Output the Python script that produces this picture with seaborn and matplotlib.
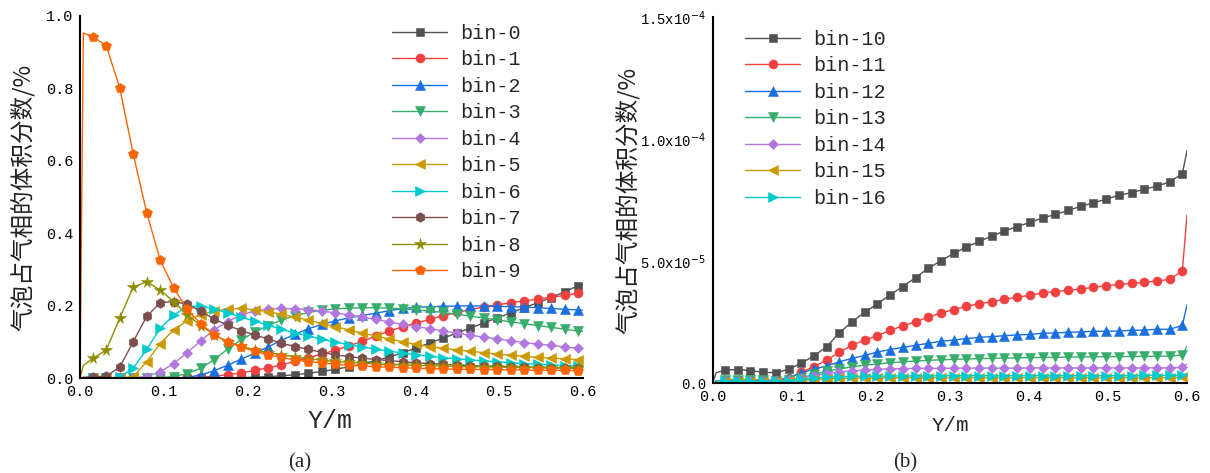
import numpy as np
import pandas as pd
import seaborn as sns
import matplotlib
matplotlib.use("Agg")
import matplotlib.pyplot as plt
from matplotlib.lines import Line2D
from matplotlib.ticker import MultipleLocator, FixedLocator, FixedFormatter, FormatStrFormatter

# ---------------- data ----------------
# sampling positions (Y, m): wall point, near-wall point, 37 marked points, outlet
x_wall = [0.0, 0.004]
x_marks = np.linspace(0.0152, 0.5941, 37)
x_end = [0.6]

labels_a = [f"bin-{i}" for i in range(10)]
labels_b = [f"bin-{i}" for i in range(10, 17)]

# panel (a): volume fraction
bin0 = [0, 0, 0, 0, 0, 0, 0, 0, 0, 0, 0, 0.001, 0.002, 0.004, 0.006, 0.009, 0.013, 0.018, 0.024, 0.031,
        0.039, 0.048, 0.058, 0.070, 0.083, 0.097, 0.110, 0.124, 0.138, 0.152, 0.166, 0.180, 0.194, 0.208,
        0.222, 0.238, 0.255]
bin1 = [0, 0, 0, 0, 0, 0, 0, 0.001, 0.002, 0.005, 0.009, 0.014, 0.021, 0.028, 0.036, 0.046, 0.056, 0.066,
        0.077, 0.089, 0.101, 0.116, 0.130, 0.141, 0.152, 0.162, 0.172, 0.181, 0.189, 0.196, 0.202, 0.208,
        0.213, 0.218, 0.223, 0.228, 0.234]
bin2 = [0, 0, 0, 0, 0, 0, 0, 0.002, 0.008, 0.020, 0.035, 0.052, 0.068, 0.086, 0.104, 0.121, 0.136, 0.148,
        0.158, 0.166, 0.173, 0.179, 0.186, 0.192, 0.195, 0.197, 0.198, 0.199, 0.199, 0.199, 0.198, 0.197,
        0.196, 0.194, 0.192, 0.190, 0.188]
bin3 = [0, 0, 0, 0, 0, 0.001, 0.004, 0.012, 0.027, 0.050, 0.080, 0.105, 0.126, 0.145, 0.160, 0.172, 0.181,
        0.187, 0.191, 0.193, 0.194, 0.194, 0.193, 0.191, 0.188, 0.185, 0.181, 0.176, 0.171, 0.166, 0.161,
        0.155, 0.150, 0.145, 0.140, 0.135, 0.130]
bin4 = [0, 0, 0, 0.001, 0.004, 0.017, 0.040, 0.070, 0.102, 0.133, 0.156, 0.174, 0.185, 0.190, 0.192, 0.191,
        0.189, 0.185, 0.180, 0.174, 0.168, 0.162, 0.155, 0.148, 0.142, 0.136, 0.130, 0.124, 0.118, 0.113,
        0.108, 0.103, 0.098, 0.094, 0.090, 0.086, 0.082]
bin5 = [0, 0, 0, 0.004, 0.045, 0.095, 0.133, 0.158, 0.175, 0.185, 0.190, 0.192, 0.189, 0.183, 0.176, 0.168,
        0.160, 0.151, 0.142, 0.133, 0.124, 0.116, 0.108, 0.100, 0.093, 0.087, 0.082, 0.078, 0.074, 0.070,
        0.066, 0.063, 0.060, 0.057, 0.055, 0.053, 0.051]
bin6 = [0, 0, 0.002, 0.027, 0.079, 0.137, 0.174, 0.197, 0.199, 0.190, 0.180, 0.168, 0.157, 0.146, 0.134,
        0.125, 0.116, 0.107, 0.099, 0.092, 0.086, 0.079, 0.074, 0.069, 0.064, 0.060, 0.056, 0.053, 0.050,
        0.047, 0.045, 0.042, 0.040, 0.038, 0.036, 0.034, 0.033]
bin7 = [0.003, 0.005, 0.030, 0.100, 0.170, 0.208, 0.211, 0.204, 0.185, 0.163, 0.146, 0.131, 0.119, 0.108,
        0.096, 0.087, 0.079, 0.071, 0.064, 0.059, 0.055, 0.051, 0.048, 0.045, 0.042, 0.040, 0.038, 0.036,
        0.034, 0.033, 0.032, 0.031, 0.030, 0.029, 0.028, 0.028, 0.027]
bin8 = [0.054, 0.077, 0.165, 0.251, 0.266, 0.243, 0.211, 0.175, 0.145, 0.120, 0.100, 0.088, 0.078, 0.070,
        0.064, 0.058, 0.053, 0.049, 0.046, 0.043, 0.041, 0.039, 0.037, 0.036, 0.035, 0.034, 0.033, 0.032,
        0.031, 0.031, 0.030, 0.030, 0.029, 0.029, 0.028, 0.028, 0.028]
bin9 = [0.943, 0.918, 0.802, 0.619, 0.457, 0.326, 0.249, 0.190, 0.150, 0.120, 0.100, 0.085, 0.075, 0.064,
        0.057, 0.050, 0.045, 0.042, 0.038, 0.035, 0.033, 0.031, 0.030, 0.028, 0.027, 0.026, 0.025, 0.024,
        0.024, 0.023, 0.023, 0.022, 0.022, 0.021, 0.021, 0.021, 0.020]
wall_a = [[0, 0], [0, 0], [0, 0], [0, 0], [0, 0], [0, 0], [0, 0], [0, 0.002], [0, 0.035], [0, 0.953]]
end_a = [0.258, 0.235, 0.187, 0.129, 0.081, 0.050, 0.032, 0.027, 0.028, 0.020]

# panel (b): volume fraction in units of 1e-5
bin10 = [0.53, 0.55, 0.51, 0.44, 0.42, 0.56, 0.81, 1.11, 1.49, 2.05, 2.51, 2.90, 3.24, 3.62, 3.95, 4.32,
         4.70, 5.01, 5.31, 5.57, 5.80, 6.02, 6.23, 6.41, 6.58, 6.76, 6.91, 7.07, 7.24, 7.38, 7.54, 7.69,
         7.80, 7.94, 8.07, 8.24, 8.58]
bin11 = [0.12, 0.12, 0.12, 0.12, 0.12, 0.20, 0.44, 0.67, 0.94, 1.26, 1.55, 1.76, 1.94, 2.16, 2.34, 2.51,
         2.70, 2.87, 3.01, 3.14, 3.25, 3.33, 3.43, 3.52, 3.59, 3.69, 3.74, 3.80, 3.85, 3.92, 3.99, 4.04,
         4.08, 4.13, 4.18, 4.25, 4.59]
bin12 = [0.10, 0.10, 0.10, 0.10, 0.10, 0.20, 0.42, 0.57, 0.70, 0.87, 1.01, 1.13, 1.27, 1.37, 1.46, 1.54,
         1.63, 1.71, 1.76, 1.82, 1.87, 1.90, 1.94, 1.97, 1.99, 2.04, 2.05, 2.08, 2.09, 2.12, 2.12, 2.13,
         2.16, 2.17, 2.20, 2.20, 2.36]
bin13 = [0.12, 0.13, 0.12, 0.11, 0.10, 0.12, 0.22, 0.35, 0.48, 0.58, 0.66, 0.73, 0.78, 0.83, 0.87, 0.90,
         0.93, 0.95, 0.97, 0.98, 1.00, 1.01, 1.02, 1.03, 1.04, 1.05, 1.05, 1.06, 1.07, 1.07, 1.08, 1.08,
         1.09, 1.09, 1.10, 1.10, 1.15]
bin14 = [0.10, 0.10, 0.10, 0.10, 0.10, 0.12, 0.20, 0.30, 0.38, 0.45, 0.50, 0.53, 0.56, 0.58, 0.59, 0.60,
         0.60, 0.60, 0.61, 0.61, 0.61, 0.61, 0.61, 0.61, 0.62, 0.62, 0.62, 0.62, 0.62, 0.62, 0.62, 0.62,
         0.62, 0.62, 0.62, 0.62, 0.64]
bin15 = [0.05, 0.05, 0.05, 0.05, 0.05, 0.07, 0.10, 0.14, 0.17, 0.19, 0.20, 0.21, 0.21, 0.22, 0.22, 0.22,
         0.22, 0.22, 0.22, 0.22, 0.22, 0.22, 0.22, 0.22, 0.22, 0.22, 0.22, 0.22, 0.22, 0.22, 0.22, 0.22,
         0.22, 0.22, 0.22, 0.22, 0.23]
bin16 = [0.08, 0.08, 0.08, 0.08, 0.08, 0.10, 0.15, 0.20, 0.24, 0.26, 0.27, 0.28, 0.28, 0.29, 0.29, 0.29,
         0.29, 0.30, 0.30, 0.30, 0.30, 0.30, 0.30, 0.30, 0.30, 0.30, 0.30, 0.30, 0.30, 0.30, 0.30, 0.30,
         0.30, 0.31, 0.31, 0.31, 0.31]
wall_b = [[0.05, 0.42], [0, 0.08], [0, 0.08], [0, 0.08], [0, 0.08], [0, 0.05], [0, 0.07]]
end_b = [9.52, 6.88, 3.20, 1.50, 0.78, 0.28, 0.36]
unit_b = 1e-5

series_a = [bin0, bin1, bin2, bin3, bin4, bin5, bin6, bin7, bin8, bin9]
series_b = [bin10, bin11, bin12, bin13, bin14, bin15, bin16]

# ---------------- styles ----------------
colors = ["#515151", "#F14040", "#1A6FDF", "#37AD6B", "#B177DE",
          "#CC9900", "#00CBCC", "#7D4E4E", "#8E8E00", "#FB6501"]
markers = ["s", "o", "^", "v", "D", "<", ">", "h", "*", "p"]
msizes = [5.5, 6.5, 6.5, 6.5, 5.0, 6.5, 6.5, 7.0, 8.5, 7.5]

sns.set_style("white")
plt.rcParams["font.family"] = ["Liberation Mono", "Noto Sans CJK SC", "DejaVu Sans"]
plt.rcParams["mathtext.fontset"] = "dejavusans"

fig = plt.figure(figsize=(12.1, 4.73), dpi=100)
W, H = 1210, 473
ax_a = fig.add_axes([80 / W, (H - 378) / H, 503 / W, 362 / H])
ax_b = fig.add_axes([713 / W, (H - 383) / H, 474 / W, 366 / H])

xs = np.concatenate([x_wall, x_marks, x_end])
mark_idx = list(range(2, 2 + len(x_marks)))


def draw(ax, series, walls, ends, names, scale):
    rows = []
    for name, vals, w, e in zip(names, series, walls, ends):
        ys = np.concatenate([w, vals, [e]]) * scale
        rows.append(pd.DataFrame({"Y": xs, "frac": ys, "bin": name}))
    df = pd.concat(rows, ignore_index=True)
    handles = []
    for i, name in enumerate(names):
        sub = df[df["bin"] == name]
        sns.lineplot(data=sub, x="Y", y="frac", ax=ax, color=colors[i], marker=markers[i],
                     markersize=msizes[i], markevery=mark_idx, linewidth=1.0,
                     markeredgecolor=colors[i], markeredgewidth=0.4, estimator=None, sort=False)
        handles.append(Line2D([], [], color=colors[i], marker=markers[i], markersize=msizes[i],
                              markeredgecolor=colors[i], markeredgewidth=0.4, linewidth=1.0))
    return handles


h_a = draw(ax_a, series_a, wall_a, end_a, labels_a, 1.0)
h_b = draw(ax_b, series_b, wall_b, end_b, labels_b, unit_b)

ylabel = "气泡占气相的体积分数/%"
for ax in (ax_a, ax_b):
    sns.despine(ax=ax)
    ax.set_xlim(0, 0.6)
    ax.xaxis.set_major_locator(MultipleLocator(0.1))
    ax.xaxis.set_minor_locator(MultipleLocator(0.05))
    ax.xaxis.set_major_formatter(FormatStrFormatter("%.1f"))
    for s in ("left", "bottom"):
        ax.spines[s].set_color("black")
        ax.spines[s].set_linewidth(1.5)
    ax.tick_params(which="major", direction="in", length=5, width=1.2, labelsize=11,
                   colors="black", pad=5)
    ax.tick_params(which="minor", direction="in", length=3, width=1.0)
    ax.set_ylabel(ylabel, family=["Noto Sans CJK SC", "DejaVu Sans"], fontsize=17, color="#222222")

ax_a.set_ylim(0, 1.0)
ax_a.yaxis.set_major_locator(MultipleLocator(0.2))
ax_a.yaxis.set_minor_locator(MultipleLocator(0.1))
ax_a.yaxis.set_major_formatter(FormatStrFormatter("%.1f"))
ax_a.set_xlabel("Y/m", fontsize=18)
ax_a.xaxis.set_label_coords(0.497, -0.085)
ax_a.yaxis.set_label_coords(-0.09, 0.5)

ax_b.set_ylim(0, 1.5e-4)
ax_b.yaxis.set_major_locator(FixedLocator([0, 5e-5, 1e-4, 1.5e-4]))
ax_b.yaxis.set_minor_locator(MultipleLocator(2.5e-5))
ax_b.yaxis.set_major_formatter(FixedFormatter(["0.0", r"5.0x10$^{-5}$", r"1.0x10$^{-4}$", r"1.5x10$^{-4}$"]))
ax_b.tick_params(axis="y", which="major", labelsize=10)
ax_b.set_xlabel("Y/m", fontsize=15)
ax_b.xaxis.set_label_coords(0.5, -0.09)
ax_b.yaxis.set_label_coords(-0.155, 0.5)

leg_kw = dict(loc="upper left", frameon=False, fontsize=14.5, handlelength=2.75,
              handletextpad=0.65, labelspacing=0.37, borderpad=0, borderaxespad=0,
              numpoints=1, bbox_transform=fig.transFigure)
ax_a.legend(h_a, labels_a, bbox_to_anchor=(392 / W, 1 - 24 / H), **leg_kw)
ax_b.legend(h_b, labels_b, bbox_to_anchor=(745 / W, 1 - 30 / H), **leg_kw)

fig.text(300 / W, 1 - 463 / H, "(a)", ha="center", va="center", fontsize=15, family="Liberation Serif")
fig.text(905 / W, 1 - 463 / H, "(b)", ha="center", va="center", fontsize=15, family="Liberation Serif")

fig.savefig("out.png", dpi=100, facecolor="white")
